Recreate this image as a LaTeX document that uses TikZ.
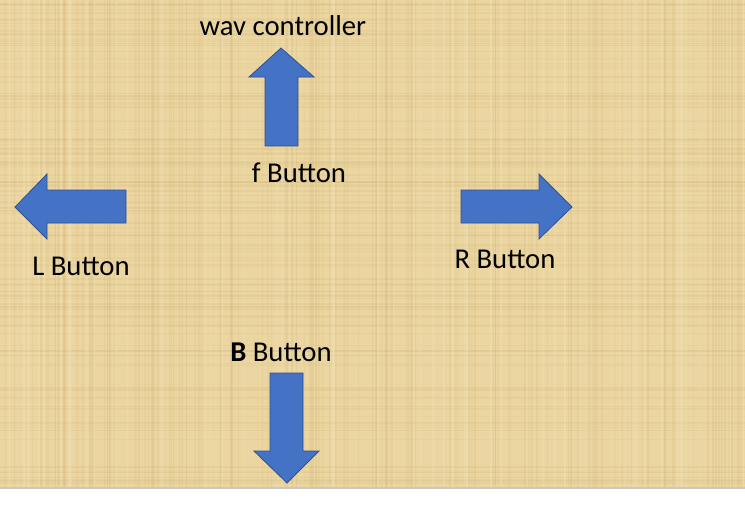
\documentclass[tikz,border=0pt]{standalone}
\usepackage{fontspec}
\setmainfont{Carlito}
\definecolor{papyrus}{RGB}{235,213,160}
\definecolor{papdark}{RGB}{205,178,118}
\definecolor{paplight}{RGB}{246,232,190}
\definecolor{arrowfill}{RGB}{68,114,196}
\definecolor{arrowline}{RGB}{47,82,143}
\tikzset{
  blockarrow/.style={fill=arrowfill, draw=arrowline, line width=0.8pt, line join=miter},
  lbl/.style={anchor=base, inner sep=0pt, font=\fontsize{28.7}{32}\selectfont, text=black}
}
\begin{document}
\begin{tikzpicture}[x=1pt,y=-1pt]
\useasboundingbox (0,0) rectangle (745,512);
\fill[white] (0,0) rectangle (745,512);
\fill[papyrus] (0,0) rectangle (745,487);
\begin{scope}
\clip (0,0) rectangle (745,487);
\pgfmathsetseed{42}
\foreach \i in {1,...,160}{
  \pgfmathsetmacro{\xx}{745*rnd}
  \pgfmathsetmacro{\ww}{0.5+2*rnd}
  \pgfmathsetmacro{\op}{0.07+0.15*rnd}
  \draw[papdark, opacity=\op, line width=\ww] (\xx,0) -- (\xx,487);
}
\foreach \i in {1,...,140}{
  \pgfmathsetmacro{\yy}{487*rnd}
  \pgfmathsetmacro{\ww}{0.5+1.5*rnd}
  \pgfmathsetmacro{\op}{0.07+0.15*rnd}
  \draw[papdark, opacity=\op, line width=\ww] (0,\yy) -- (745,\yy);
}
\foreach \i in {1,...,100}{
  \pgfmathsetmacro{\xx}{745*rnd}
  \pgfmathsetmacro{\ww}{0.5+2*rnd}
  \pgfmathsetmacro{\op}{0.12+0.2*rnd}
  \draw[paplight, opacity=\op, line width=\ww] (\xx,0) -- (\xx,487);
}
\end{scope}
\draw[black!22, line width=1.5pt] (0,488) -- (745,488);

% up arrow
\draw[blockarrow] (265,146) -- (265,77) -- (249,77) -- (281,48) -- (314,77) -- (298,77) -- (298,146) -- cycle;
% left arrow
\draw[blockarrow] (126,190) -- (47,190) -- (47,174) -- (15,207) -- (47,239) -- (47,223) -- (126,223) -- cycle;
% right arrow
\draw[blockarrow] (461,190) -- (539,190) -- (539,174) -- (572,207) -- (539,239) -- (539,223) -- (461,223) -- cycle;
% down arrow
\draw[blockarrow] (270,373) -- (303,373) -- (303,451) -- (319,451) -- (287,483) -- (254,451) -- (270,451) -- cycle;

\node[lbl] (wav) at (283,35) {wav controller};
\node[lbl] (f) at (299,182) {f Button};
\node[lbl] (L) at (81,275) {L Button};
\node[lbl] (R) at (505,268) {R Button};
\node[lbl] (B) at (281,361) {\textbf{B} Button};
\end{tikzpicture}
\end{document}
